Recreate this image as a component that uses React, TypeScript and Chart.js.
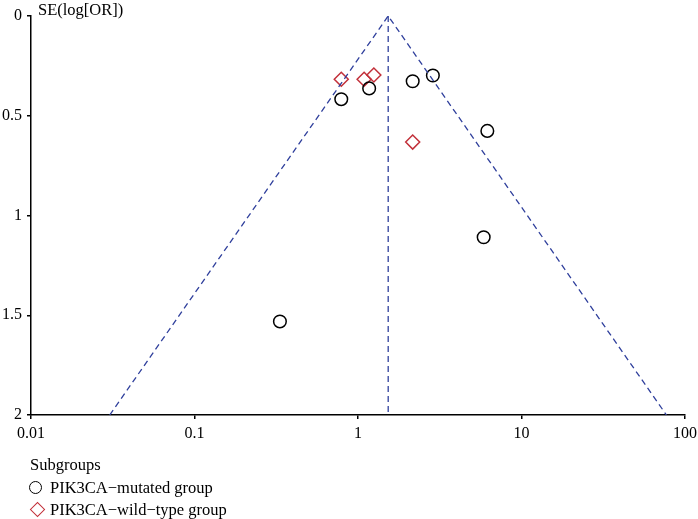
import React, { useEffect, useRef } from "react";
import { Chart, registerables } from "chart.js";

Chart.register(...registerables);

const xTickValues = [0.01, 0.1, 1, 10, 100];
const yTickValues = [0, 0.5, 1, 1.5, 2];

const mutatedOR = [0.79, 1.17, 2.16, 2.87, 6.18, 5.87, 0.333];
const mutatedSE = [0.417, 0.363, 0.327, 0.298, 0.576, 1.109, 1.531];

const wildOR = [0.79, 1.09, 1.25, 2.16];
const wildSE = [0.317, 0.317, 0.296, 0.632];

const pooledOR = 1.53;
const funnelOR = [0.0303, 1.53, 77];
const funnelSE = [2, 0, 2];
const centerSE = [0, 2];

const seriesNames = ["PIK3CA\u2212mutated group", "PIK3CA\u2212wild\u2212type group"];
const FONT = "'Liberation Serif', 'Times New Roman', serif";
const LINE_COLOR = "#2f3f9c";
const RED = "#c2303a";

export default function App() {
  const ref = useRef<HTMLCanvasElement | null>(null);

  useEffect(() => {
    document.body.style.margin = "0";
    const canvas = ref.current;
    if (!canvas) return;
    const chart = new Chart(canvas, {
      type: "scatter",
      data: {
        datasets: [
          {
            type: "line",
            label: "funnel",
            data: funnelOR.map((x, i) => ({ x, y: funnelSE[i] })),
            borderColor: LINE_COLOR,
            borderWidth: 1.3,
            borderDash: [6, 4],
            pointRadius: 0,
            fill: false,
            tension: 0,
          } as any,
          {
            type: "line",
            label: "pooled",
            data: centerSE.map((y) => ({ x: pooledOR, y })),
            borderColor: LINE_COLOR,
            borderWidth: 1.3,
            borderDash: [6, 4],
            pointRadius: 0,
            fill: false,
          } as any,
          {
            label: seriesNames[0],
            data: mutatedOR.map((x, i) => ({ x, y: mutatedSE[i] })),
            pointStyle: "circle",
            pointRadius: 6.3,
            borderColor: "#000",
            backgroundColor: "rgba(255,255,255,0)",
            pointBorderWidth: 1.5,
          } as any,
          {
            label: seriesNames[1],
            data: wildOR.map((x, i) => ({ x, y: wildSE[i] })),
            pointStyle: "rectRot",
            pointRadius: 7,
            borderColor: RED,
            backgroundColor: "rgba(255,255,255,0)",
            pointBorderWidth: 1.5,
          } as any,
        ],
      },
      options: {
        animation: false,
        responsive: false,
        maintainAspectRatio: false,
        layout: { padding: { left: 0, right: 13, top: 16, bottom: 74 } },
        plugins: { legend: { display: false }, tooltip: { enabled: false } },
        scales: {
          x: {
            type: "logarithmic",
            min: 0.01,
            max: 100,
            afterBuildTicks: (scale: any) => {
              scale.ticks = xTickValues.map((v) => ({ value: v }));
            },
            afterFit: (scale: any) => {
              scale.height = 30;
              scale.paddingLeft = 0;
              scale.paddingRight = 0;
            },
            ticks: {
              callback: (v: any) => String(v),
              color: "#000",
              font: { family: FONT, size: 16 },
              padding: 5,
              maxRotation: 0,
              autoSkip: false,
            },
            grid: { drawOnChartArea: false, drawTicks: true, tickLength: 4, color: "#000", lineWidth: 1.5 },
            border: { display: true, color: "#000", width: 1.5 },
          },
          y: {
            type: "linear",
            reverse: true,
            min: 0,
            max: 2,
            afterBuildTicks: (scale: any) => {
              scale.ticks = yTickValues.map((v) => ({ value: v }));
            },
            afterFit: (scale: any) => {
              scale.width = 31;
              scale.paddingTop = 0;
              scale.paddingBottom = 0;
            },
            ticks: {
              callback: (v: any) => String(v),
              color: "#000",
              font: { family: FONT, size: 16 },
              padding: 5,
            },
            grid: { drawOnChartArea: false, drawTicks: true, tickLength: 4, color: "#000", lineWidth: 1.5 },
            border: { display: true, color: "#000", width: 1.5 },
          },
        },
      },
    });
    return () => chart.destroy();
  }, []);

  const textStyle: React.CSSProperties = {
    position: "absolute",
    fontFamily: FONT,
    fontSize: 16.5,
    color: "#000",
    whiteSpace: "nowrap",
    lineHeight: "20px",
  };

  return (
    <div style={{ position: "relative", width: 698, height: 519, background: "#fff" }}>
      <canvas ref={ref} width={698} height={519} style={{ display: "block" }} />
      <div style={{ ...textStyle, left: 38, top: 0 }}>SE(log[OR])</div>
      <div style={{ ...textStyle, left: 30, top: 455 }}>Subgroups</div>
      <div
        style={{
          position: "absolute",
          left: 29,
          top: 481,
          width: 11,
          height: 11,
          border: "1.5px solid #000",
          borderRadius: "50%",
        }}
      />
      <div style={{ ...textStyle, left: 50, top: 478 }}>{seriesNames[0]}</div>
      <div
        style={{
          position: "absolute",
          left: 32,
          top: 504,
          width: 9,
          height: 9,
          border: "1.5px solid " + RED,
          transform: "rotate(45deg)",
        }}
      />
      <div style={{ ...textStyle, left: 50, top: 500 }}>{seriesNames[1]}</div>
    </div>
  );
}
